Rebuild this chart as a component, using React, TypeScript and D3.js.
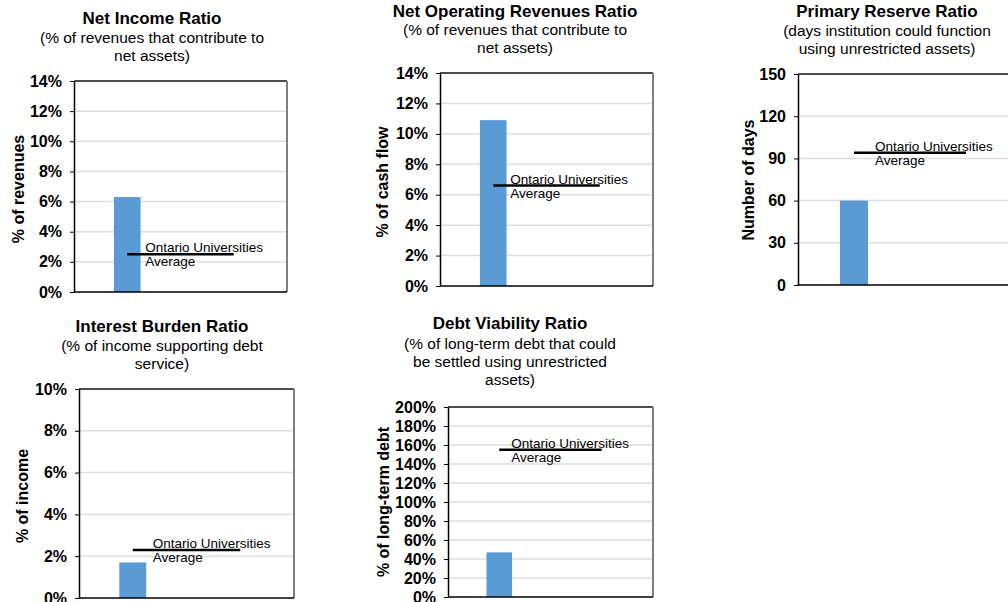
import { useEffect, useRef } from 'react'
import * as d3 from 'd3'

// chart data
const chartTitles = [
  'Net Income Ratio',
  'Net Operating Revenues Ratio',
  'Primary Reserve Ratio',
  'Interest Burden Ratio',
  'Debt Viability  Ratio',
]
const chartSubtitles = [
  ['(% of revenues that contribute to', 'net assets)'],
  ['(% of revenues that contribute to', 'net assets)'],
  ['(days institution could function', 'using unrestricted assets)'],
  ['(% of income supporting debt', 'service)'],
  ['(% of long-term debt that could', 'be settled using unrestricted', 'assets)'],
]
const yAxisTitles = ['% of revenues', '% of cash flow', 'Number of days', '% of income', '% of long-term debt']
const categories = ['Institution', 'Ontario']
const institutionValues = [6.3, 10.9, 60, 1.7, 47]
const ontarioAverages = [2.5, 6.6, 94, 2.3, 155]
const yMaxValues = [14, 14, 150, 10, 200]
const yStepValues = [2, 2, 30, 2, 20]
const percentAxis = [true, true, false, true, true]
const averageLabel = ['Ontario Universities', 'Average']

// layout of each panel in the 1008x602 picture
const panels = [
  { l: 74, r: 287, t: 81, b: 292, tx: 152, ty: 24, sy: [43, 61], ax: 18, ay: 189, lx: 18 },
  { l: 440, r: 653, t: 73, b: 286, tx: 515, ty: 17, sy: [35, 53], ax: 382, ay: 182, lx: 17 },
  { l: 798, r: 1022, t: 74, b: 285, tx: 887, ty: 17, sy: [36, 54], ax: 748, ay: 180, lx: 21 },
  { l: 79, r: 294, t: 389, b: 598, tx: 162, ty: 332, sy: [351, 369], ax: 22, ay: 496, lx: 20 },
  { l: 448, r: 653, t: 407, b: 597, tx: 510, ty: 329, sy: [349, 367, 385], ax: 383, ay: 502, lx: 12 },
]

const FONT = '"Liberation Sans", Arial, sans-serif'

function Panel({ i }: { i: number }) {
  const axisRef = useRef<SVGGElement>(null)
  const p = panels[i]
  const w = p.r - p.l
  const h = p.b - p.t

  const x = d3.scaleBand<string>()
    .domain(categories)
    .range([0, w])
    .paddingInner(0.75)
    .paddingOuter(0.375)

  const y = d3.scaleLinear()
    .domain([0, yMaxValues[i]])
    .range([h, 0])

  const ticks = d3.range(0, yMaxValues[i] + yStepValues[i] / 2, yStepValues[i])

  useEffect(() => {
    if (!axisRef.current) return
    const g = d3.select(axisRef.current)
    g.selectAll('*').remove()
    const axis = d3.axisLeft(y)
      .tickValues(ticks)
      .tickSizeInner(4)
      .tickSizeOuter(0)
      .tickPadding(8)
      .tickFormat(d => percentAxis[i] ? `${d}%` : `${d}`)
    g.call(axis)
    g.select('.domain').attr('stroke', '#000').attr('stroke-width', 1.5)
    g.selectAll('.tick line').attr('stroke', '#000')
    g.selectAll('.tick text')
      .attr('fill', '#000')
      .style('font-family', FONT)
      .style('font-size', '16px')
      .style('font-weight', 'bold')
  }, [i])

  const cx0 = x(categories[0])! + x.bandwidth() / 2
  const cx1 = x(categories[1])! + x.bandwidth() / 2
  const avgY = y(ontarioAverages[i])

  return (
    <g>
      <text x={p.tx} y={p.ty} textAnchor="middle" fontFamily={FONT} fontSize={17} fontWeight="bold" fill="#000">
        {chartTitles[i]}
      </text>
      {chartSubtitles[i].map((s, k) => (
        <text key={k} x={p.tx} y={p.sy[k]} textAnchor="middle" fontFamily={FONT} fontSize={15.5} fill="#000">
          {s}
        </text>
      ))}
      <text
        transform={`translate(${p.ax},${p.ay}) rotate(-90)`}
        textAnchor="middle"
        dy="0.35em"
        fontFamily={FONT}
        fontSize={16}
        fontWeight="bold"
        fill="#000"
      >
        {yAxisTitles[i]}
      </text>
      <g transform={`translate(${p.l},${p.t})`}>
        {ticks.slice(1).map(t => (
          <line key={t} x1={0} x2={w} y1={y(t)} y2={y(t)} stroke="#dedede" strokeWidth={1.5} />
        ))}
        <line x1={0} x2={w} y1={0} y2={0} stroke="#1a1a1a" strokeWidth={1.5} />
        <line x1={w} x2={w} y1={0} y2={h} stroke="#7f7f7f" strokeWidth={2} />
        <rect
          x={x(categories[0])}
          y={y(institutionValues[i])}
          width={x.bandwidth()}
          height={h - y(institutionValues[i])}
          fill="#5b9bd5"
        />
        <line x1={cx0} x2={cx1} y1={avgY} y2={avgY} stroke="#000" strokeWidth={2.5} />
        <text x={cx0 + p.lx} y={avgY - 2} fontFamily={FONT} fontSize={13.5} fill="#000">
          {averageLabel[0]}
        </text>
        <text x={cx0 + p.lx} y={avgY + 12} fontFamily={FONT} fontSize={13.5} fill="#000">
          {averageLabel[1]}
        </text>
        <line x1={0} x2={w} y1={h} y2={h} stroke="#000" strokeWidth={1.5} />
        <g ref={axisRef} />
      </g>
    </g>
  )
}

export default function App() {
  return (
    <svg
      width={1008}
      height={602}
      viewBox="0 0 1008 602"
      style={{ position: 'absolute', left: 0, top: 0, background: '#fff' }}
    >
      <rect width={1008} height={602} fill="#fff" />
      {panels.map((_, i) => <Panel key={i} i={i} />)}
    </svg>
  )
}
